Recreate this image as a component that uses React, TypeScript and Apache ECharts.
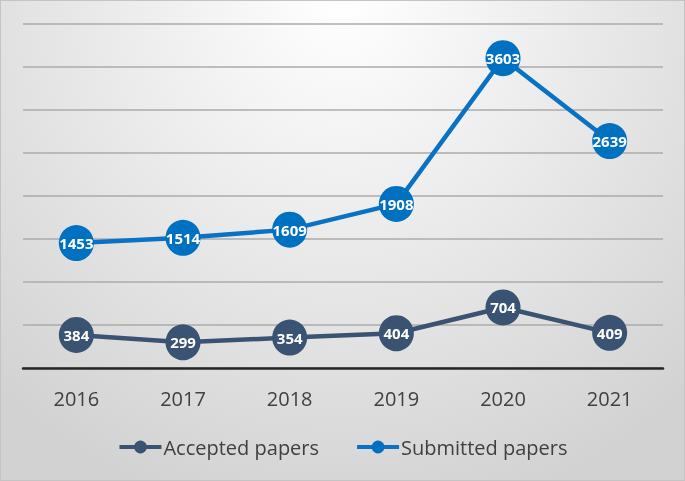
import React, { useEffect, useRef } from "react";
import * as echarts from "echarts";

const years = ["2016", "2017", "2018", "2019", "2020", "2021"];
const acceptedPapers = [384, 299, 354, 404, 704, 409];
const submittedPapers = [1453, 1514, 1609, 1908, 3603, 2639];

export default function App() {
  const ref = useRef<HTMLDivElement>(null);
  useEffect(() => {
    if (!ref.current) return;
    const chart = echarts.init(ref.current, undefined, { renderer: "svg" });
    const label = {
      show: true,
      position: "inside",
      color: "#ffffff",
      fontWeight: "bold",
      fontSize: 15,
      fontFamily: "Open Sans",
    };
    chart.setOption({
      animation: false,
      backgroundColor: "transparent",
      grid: { left: 22, right: 21, top: 23, bottom: 112, containLabel: false },
      legend: {
        bottom: 18,
        left: "center",
        itemWidth: 42,
        itemHeight: 16,
        itemGap: 36,
        lineStyle: { width: 4 },
        textStyle: { fontSize: 20, color: "#404040", fontFamily: "Open Sans", padding: [0, 0, 0, -3] },
        data: ["Accepted papers", "Submitted papers"],
      },
      xAxis: {
        type: "category",
        data: years,
        boundaryGap: true,
        axisLine: { show: true, lineStyle: { color: "#262626", width: 2.5 } },
        axisTick: { show: false },
        axisLabel: { fontSize: 20, color: "#404040", margin: 20, fontFamily: "Open Sans" },
        z: 5,
      },
      yAxis: {
        type: "value",
        min: 0,
        max: 4000,
        interval: 500,
        axisLabel: { show: false },
        axisLine: { show: false },
        axisTick: { show: false },
        splitLine: { show: true, lineStyle: { color: "#ababab", width: 1.6 } },
      },
      series: [
        {
          name: "Accepted papers",
          type: "line",
          data: acceptedPapers,
          symbol: "circle",
          symbolSize: [35, 36],
          itemStyle: { color: "#3a5372" },
          lineStyle: { color: "#3a5372", width: 4.5 },
          label,
          z: 3,
        },
        {
          name: "Submitted papers",
          type: "line",
          data: submittedPapers,
          symbol: "circle",
          symbolSize: [35, 36],
          itemStyle: { color: "#0070c0" },
          lineStyle: { color: "#0a72c4", width: 4.5 },
          label,
          z: 3,
        },
      ],
    });
    return () => chart.dispose();
  }, []);
  return (
    <div
      style={{
        position: "fixed",
        left: 0,
        top: 0,
        width: 685,
        height: 481,
        boxSizing: "border-box",
        border: "1px solid #c4c4c4",
        background:
          "radial-gradient(ellipse 75% 110% at 50% 0%, #ffffff 0%, #ebebeb 45%, #d2d2d2 100%)",
      }}
    >
      <div ref={ref} style={{ width: 683, height: 479 }} />
    </div>
  );
}
